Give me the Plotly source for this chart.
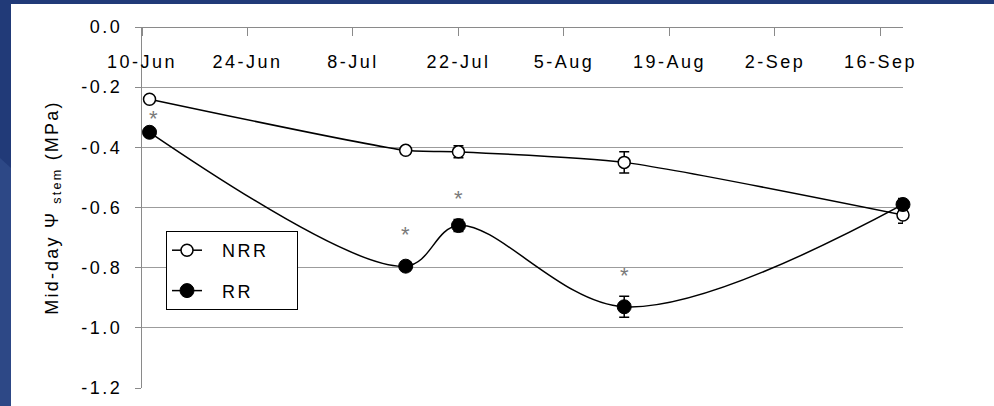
import plotly.graph_objects as go

# Sampling dates and mid-day stem water potential (MPa)
dates = ["2010-06-11", "2010-07-15", "2010-07-22", "2010-08-13", "2010-09-19"]
nrr_mean = [-0.24, -0.41, -0.415, -0.45, -0.625]
nrr_err = [0.01, 0.012, 0.02, 0.035, 0.027]
rr_mean = [-0.35, -0.795, -0.66, -0.93, -0.59]
rr_err = [0.01, 0.015, 0.02, 0.035, 0.02]
# significant difference between treatments on each date
significant = [True, True, True, True, False]

x_tick_dates = ["2010-06-10", "2010-06-24", "2010-07-08", "2010-07-22",
                "2010-08-05", "2010-08-19", "2010-09-02", "2010-09-16"]
x_tick_labels = ["10-Jun", "24-Jun", "8-Jul", "22-Jul", "5-Aug", "19-Aug", "2-Sep", "16-Sep"]
y_tick_vals = [0.0, -0.2, -0.4, -0.6, -0.8, -1.0, -1.2]
y_tick_labels = ["0.0", "-0.2", "-0.4", "-0.6", "-0.8", "-1.0", "-1.2"]

FONT = "Liberation Sans, Arial, sans-serif"
FS = 18
GRID = "#9c9c9c"
AXIS = "#8a8a8a"
NB = "\u00a0"


def wide(txt, ls=2.5):
    return f'<span style="letter-spacing:{ls}px">{txt}</span>'


def legend_name(txt):
    # padded so the legend box has room around the short names
    return wide(NB * 2 + txt + NB * 3)


fig = go.Figure()

fig.add_trace(go.Scatter(
    x=dates, y=nrr_mean, name=legend_name("NRR"), legendgroup="nrr",
    mode="lines+markers",
    line=dict(color="black", width=1.5, shape="spline", smoothing=0.6),
    marker=dict(symbol="circle", size=12, color="white",
                line=dict(color="black", width=1.5)),
    error_y=dict(type="data", array=nrr_err, visible=True,
                 color="black", thickness=1.5, width=5),
    cliponaxis=False,
))

fig.add_trace(go.Scatter(
    x=dates, y=rr_mean, name=legend_name("RR" + NB * 2), legendgroup="rr",
    mode="lines+markers",
    line=dict(color="black", width=1.5, shape="spline", smoothing=1.0),
    marker=dict(symbol="circle", size=14, color="black",
                line=dict(color="black", width=1)),
    error_y=dict(type="data", array=rr_err, visible=True,
                 color="black", thickness=1.5, width=5),
    cliponaxis=False,
))

# asterisks above the RR means on dates with a significant difference
star_shift = [14, 32, 27, 31, 0]
star_xshift = [4, 0, 0, 0, 0]
for d, v, sig, ys, xs in zip(dates, rr_mean, significant, star_shift, star_xshift):
    if sig:
        fig.add_annotation(x=d, y=v, text="*", showarrow=False,
                           yshift=ys, xshift=xs,
                           font=dict(family=FONT, size=22, color="#7a7a7a"))

# slide background: dark blue frame with white chart panel
L, R, T, B = 142, 91, 27, 18
PW, PH = 994 - L - R, 406 - T - B


def px_x(px):
    return (px - L) / PW


def px_y(py):
    return 1 - (py - T) / PH


fig.add_shape(type="rect", xref="paper", yref="paper",
              x0=px_x(0), x1=px_x(11), y0=px_y(406), y1=px_y(0),
              fillcolor="#213a78", line=dict(width=0), layer="below")
fig.add_shape(type="path", xref="paper", yref="paper",
              path=(f"M {px_x(0)} {px_y(158)} L {px_x(11)} {px_y(168)} "
                    f"L {px_x(11)} {px_y(406)} L {px_x(0)} {px_y(406)} Z"),
              fillcolor="#2d4886", line=dict(width=0), layer="below")
fig.add_shape(type="rect", xref="paper", yref="paper",
              x0=px_x(0), x1=px_x(994), y0=px_y(0), y1=px_y(4),
              fillcolor="#213a78", line=dict(width=0), layer="below")
fig.add_shape(type="rect", xref="paper", yref="paper",
              x0=px_x(11), x1=px_x(994), y0=px_y(406), y1=px_y(4),
              fillcolor="white", line=dict(width=0), layer="below")

fig.update_layout(
    width=994, height=406,
    margin=dict(l=L, r=R, t=T, b=B, autoexpand=False),
    paper_bgcolor="#213a78",
    plot_bgcolor="rgba(0,0,0,0)",
    font=dict(family=FONT, size=FS, color="black"),
    showlegend=True,
    legend=dict(
        x=px_x(166), y=px_y(231), xanchor="left", yanchor="top",
        bgcolor="white", bordercolor="black", borderwidth=1,
        font=dict(family=FONT, size=FS, color="black"),
        traceorder="grouped", tracegroupgap=14,
    ),
    # date axis drawn along the 0.0 line, labels hanging below it
    xaxis=dict(
        type="date", range=["2010-06-10", "2010-09-19"],
        anchor="free", position=1, side="bottom",
        tickmode="array", tickvals=x_tick_dates,
        ticktext=[wide(t) for t in x_tick_labels],
        ticklabelstandoff=10,
        ticks="outside", ticklen=8, tickcolor=AXIS, tickwidth=1,
        showline=True, linecolor=AXIS, linewidth=1,
        showgrid=False, zeroline=False, automargin=False,
        tickfont=dict(family=FONT, size=FS, color="black"),
    ),
    yaxis=dict(
        range=[-1.2, 0], tickmode="array", tickvals=y_tick_vals,
        ticktext=[wide(t) for t in y_tick_labels],
        ticks="outside", ticklen=6, tickcolor=AXIS, tickwidth=1,
        ticklabelstandoff=9,
        showline=True, linecolor=AXIS, linewidth=1,
        showgrid=True, gridcolor=GRID, gridwidth=1,
        zeroline=False, automargin=False,
        tickfont=dict(family=FONT, size=FS, color="black"),
        title=dict(text=wide("Mid-day \u03a8 <sub>stem</sub> (MPa)", 2.2),
                   font=dict(family=FONT, size=FS, color="black"),
                   standoff=18),
    ),
)

fig.write_html("out.html")
